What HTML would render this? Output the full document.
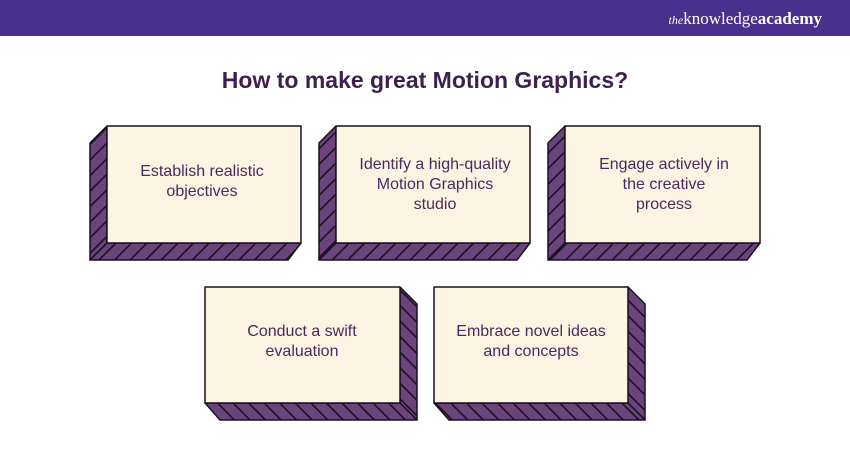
<!DOCTYPE html>
<html><head><style>
body{margin:0;width:850px;height:450px;overflow:hidden;background:#fff;font-family:"Liberation Sans",sans-serif}
</style></head><body>
<svg width="850" height="450" xmlns="http://www.w3.org/2000/svg">
<defs>
<pattern id="h1" patternUnits="userSpaceOnUse" width="11" height="11" patternTransform="rotate(45)">
<rect width="11" height="11" fill="#6b447e"/><rect width="1.6" height="11" fill="#1a1020"/>
</pattern>
<pattern id="h2" patternUnits="userSpaceOnUse" width="11" height="11" patternTransform="rotate(-45)">
<rect width="11" height="11" fill="#6b447e"/><rect width="1.6" height="11" fill="#1a1020"/>
</pattern>
</defs>
<rect x="0" y="0" width="850" height="36" fill="#4a2f8c"/>
<text x="822" y="24" text-anchor="end" fill="#fff" font-family="Liberation Serif" font-size="17"><tspan font-style="italic" font-size="12">the</tspan>knowledge<tspan font-weight="bold">academy</tspan></text>
<text x="425" y="88" text-anchor="middle" fill="#3e1f4e" font-size="23" font-weight="bold">How to make great Motion Graphics?</text>
<g stroke="#1a1020" stroke-width="1.5" stroke-linejoin="round">
<g>
<polygon points="107,126 90,143 90,260 107,243" fill="url(#h1)"/>
<polygon points="107,243 301,243 288,260 90,260" fill="url(#h1)"/>
<rect x="107" y="126" width="194" height="117" fill="#fdf4e4"/>
</g>
<g>
<polygon points="336,126 319,143 319,260 336,243" fill="url(#h1)"/>
<polygon points="336,243 530,243 517,260 319,260" fill="url(#h1)"/>
<rect x="336" y="126" width="194" height="117" fill="#fdf4e4"/>
</g>
<g>
<polygon points="565,126 548,143 548,260 565,243" fill="url(#h1)"/>
<polygon points="565,243 760,243 747,260 548,260" fill="url(#h1)"/>
<rect x="565" y="126" width="195" height="117" fill="#fdf4e4"/>
</g>
<g>
<polygon points="400,287 417,304 417,420 400,403" fill="url(#h2)"/>
<polygon points="205,403 400,403 417,420 220,420" fill="url(#h2)"/>
<rect x="205" y="287" width="195" height="116" fill="#fdf4e4"/>
</g>
<g>
<polygon points="628,287 645,304 645,420 628,403" fill="url(#h2)"/>
<polygon points="434,403 628,403 645,420 449,420" fill="url(#h2)"/>
<rect x="434" y="287" width="194" height="116" fill="#fdf4e4"/>
</g>
</g>
<g fill="#4a2a58" font-size="16" text-anchor="middle">
<text x="202" y="176">Establish realistic</text>
<text x="202" y="196">objectives</text>
<text x="435" y="169">Identify a high-quality</text>
<text x="435" y="189">Motion Graphics</text>
<text x="435" y="209">studio</text>
<text x="664" y="169">Engage actively in</text>
<text x="664" y="189">the creative</text>
<text x="664" y="209">process</text>
<text x="302" y="336">Conduct a swift</text>
<text x="302" y="356">evaluation</text>
<text x="531" y="336">Embrace novel ideas</text>
<text x="531" y="356">and concepts</text>
</g>
</svg>
</body></html>
